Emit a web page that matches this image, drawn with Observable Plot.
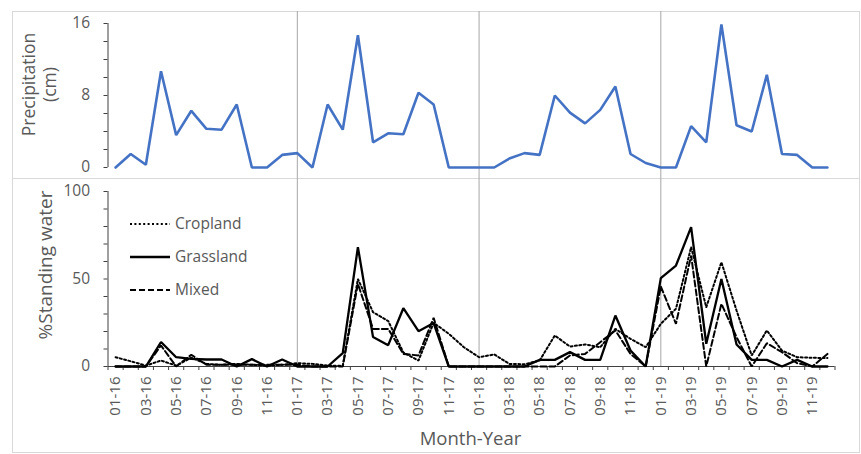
<!DOCTYPE html>
<html>
<head>
<meta charset="utf-8">
<script src="https://cdn.jsdelivr.net/npm/d3@7"></script>
<script src="https://cdn.jsdelivr.net/npm/@observablehq/plot@0.6"></script>
<style>
  html, body { margin: 0; padding: 0; background: #fff; }
  #wrap { position: relative; width: 861px; height: 454px; overflow: hidden; font-family: "Open Sans", sans-serif; }
  #wrap > svg, #wrap > div { position: absolute; }
  .box { border: 1px solid #d9d9d9; box-sizing: border-box; }
</style>
</head>
<body>
<div id="wrap"></div>
<script>
// ---- Data ----
const months = [
  "01-16","02-16","03-16","04-16","05-16","06-16","07-16","08-16","09-16","10-16","11-16","12-16",
  "01-17","02-17","03-17","04-17","05-17","06-17","07-17","08-17","09-17","10-17","11-17","12-17",
  "01-18","02-18","03-18","04-18","05-18","06-18","07-18","08-18","09-18","10-18","11-18","12-18",
  "01-19","02-19","03-19","04-19","05-19","06-19","07-19","08-19","09-19","10-19","11-19","12-19"
];
const tickLabels = ["01-16","03-16","05-16","07-16","09-16","11-16","01-17","03-17","05-17","07-17","09-17","11-17",
  "01-18","03-18","05-18","07-18","09-18","11-18","01-19","03-19","05-19","07-19","09-19","11-19"];
const yearStarts = ["01-17","01-18","01-19"];

const precipitation = [0,1.5,0.3,10.7,3.6,6.3,4.3,4.2,7.0,0,0,1.4,
  1.6,0,7.0,4.2,14.7,2.8,3.8,3.7,8.3,7.0,0,0,
  0,0,1.0,1.6,1.4,8.0,6.1,4.9,6.4,9.0,1.5,0.5,
  0,0,4.6,2.8,15.9,4.7,4.0,10.3,1.5,1.4,0,0];

const cropland = [5.3,3,0.5,3.4,0.5,5,1.5,1,1.5,1,0.5,1,
  1.9,1.5,0.5,0.5,50,31,26,8,3.4,25,18.7,11,
  5.3,6.9,1.5,1.3,3.4,17.7,11.4,12.6,11,21.5,15.8,11,
  24.4,33,68.2,33.9,59.6,32,6.3,20.6,9.1,5.3,5,4.8];
const grassland = [0,0,0,14,5.3,4.4,4,4,0,4.2,0,4,
  0,0,0,7.6,68.2,16.8,12.2,33.3,20.2,24.8,0,0,
  0,0,0,0,3.8,3.8,8.2,3.8,3.8,29.1,9.1,0,
  50.5,57.7,79.6,13,50,12.6,3.8,3.8,0,3.8,0,0];
const mixed = [0,0,0,12,0,6.7,1,1,1,1,1,1,
  1,0,0,0,47.2,21.5,21.5,7.2,6.3,27.8,0,0,
  0,0,0,0,0,0,6.3,7.2,13.9,20.6,7.2,0,
  45.7,24.4,63.4,0,35.8,16.8,0,13.3,8.2,1.9,0,7.2];

const seriesNames = ["Cropland","Grassland","Mixed"];
const seriesValues = [cropland, grassland, mixed];
const seriesDash = {Cropland: "2,2.4", Grassland: null, Mixed: "6,3"};

// ---- Build ----
const wrap = document.getElementById("wrap");
const idx = m => months.indexOf(m);
const xScale = {type: "linear", domain: [-0.5, months.length - 0.5], axis: null};
const yearIdx = yearStarts.map(idx);
const font = {fontFamily: "Open Sans, sans-serif", fontSize: "15px", color: "#595959", background: "transparent", overflow: "visible"};

// frames
const b1 = document.createElement("div"); b1.className = "box";
Object.assign(b1.style, {left: "12px", top: "11px", width: "848px", height: "168px"});
const b2 = document.createElement("div"); b2.className = "box";
Object.assign(b2.style, {left: "12px", top: "178px", width: "848px", height: "275px"});
wrap.append(b1, b2);

const precipRows = precipitation.map((v, i) => ({i, v}));

const topChart = Plot.plot({
  width: 861, height: 178,
  marginLeft: 107.5, marginRight: 26.5, marginTop: 23, marginBottom: 11,
  style: font,
  x: xScale,
  y: {domain: [0, 16], axis: null},
  marks: [
    Plot.ruleX(yearIdx, {stroke: "#a6a6a6", strokeWidth: 1, insetTop: -12, insetBottom: -11}),
    Plot.ruleX([-0.5], {y1: 0, y2: 16, stroke: "#404040"}),
    Plot.axisY(d3.range(0, 17, 2), {tickSize: 4, tickPadding: 14, stroke: "#404040", fill: "#595959",
      tickFormat: d => d % 8 === 0 ? d : "", label: null, fontSize: 15.5}),
    Plot.lineY(precipRows, {x: "i", y: "v", stroke: "#4472C4", strokeWidth: 2.6, strokeLinejoin: "miter"}),
    Plot.text(["Precipitation\n(cm)"], {frameAnchor: "left", textAnchor: "middle", lineAnchor: "middle",
      rotate: -90, dx: -69, dy: -11, fontSize: 17.5, fill: "#595959", lineHeight: 1.15})
  ]
});
topChart.style.left = "0px"; topChart.style.top = "0px";
wrap.append(topChart);

const rows = [];
seriesNames.forEach((s, k) => seriesValues[k].forEach((v, i) => rows.push({s, i, v})));

const bottomChart = Plot.plot({
  width: 861, height: 276,
  marginLeft: 107.5, marginRight: 26.5, marginTop: 13, marginBottom: 88,
  style: font,
  x: xScale,
  y: {domain: [0, 100], axis: null},
  marks: [
    Plot.ruleX(yearIdx, {stroke: "#a6a6a6", strokeWidth: 1, insetTop: -13}),
    Plot.ruleX([-0.5], {y1: 0, y2: 100, stroke: "#404040"}),
    Plot.ruleY([0], {stroke: "#404040"}),
    Plot.axisY(d3.range(0, 101, 10), {tickSize: 4, tickPadding: 14, stroke: "#404040", fill: "#595959",
      tickFormat: d => d % 50 === 0 ? d : "", label: null, fontSize: 15.5}),
    Plot.axisX(d3.range(-0.5, months.length, 1), {tickSize: 4, tickFormat: () => "", stroke: "#404040", label: null}),
    Plot.axisX(tickLabels.map(idx), {tickSize: 0, tickPadding: 10, tickRotate: -90, fill: "#595959",
      tickFormat: i => months[i], fontSize: 15, label: null}),
    ...seriesNames.map(s => Plot.lineY(rows.filter(r => r.s === s), {
      x: "i", y: "v", stroke: "#000", strokeWidth: s === "Grassland" ? 2.3 : 2,
      strokeDasharray: seriesDash[s], strokeLinejoin: "miter"
    })),
    Plot.text(["%Standing water"], {frameAnchor: "left", textAnchor: "middle", rotate: -90, dx: -62, dy: -14,
      fontSize: 19, fill: "#595959"}),
    Plot.text(["Month-Year"], {frameAnchor: "bottom", dx: -1, dy: 78, fontSize: 18.5, fill: "#595959"})
  ]
});
bottomChart.style.left = "0px"; bottomChart.style.top = "178px";
wrap.append(bottomChart);

// legend (inside the lower panel)
const leg = d3.create("svg").attr("width", 130).attr("height", 90)
  .style("left", "128px").style("top", "208px").style("overflow", "visible");
seriesNames.forEach((s, k) => {
  const y = 16 + k * 33;
  leg.append("line").attr("x1", 2).attr("x2", 42).attr("y1", y).attr("y2", y)
    .attr("stroke", "#000").attr("stroke-width", s === "Grassland" ? 2.4 : 2)
    .attr("stroke-dasharray", seriesDash[s]);
  leg.append("text").attr("x", 47).attr("y", y).attr("dy", "0.35em")
    .attr("font-family", "Open Sans, sans-serif").attr("font-size", 15.5).attr("fill", "#595959").text(s);
});
wrap.append(leg.node());
</script>
</body>
</html>
